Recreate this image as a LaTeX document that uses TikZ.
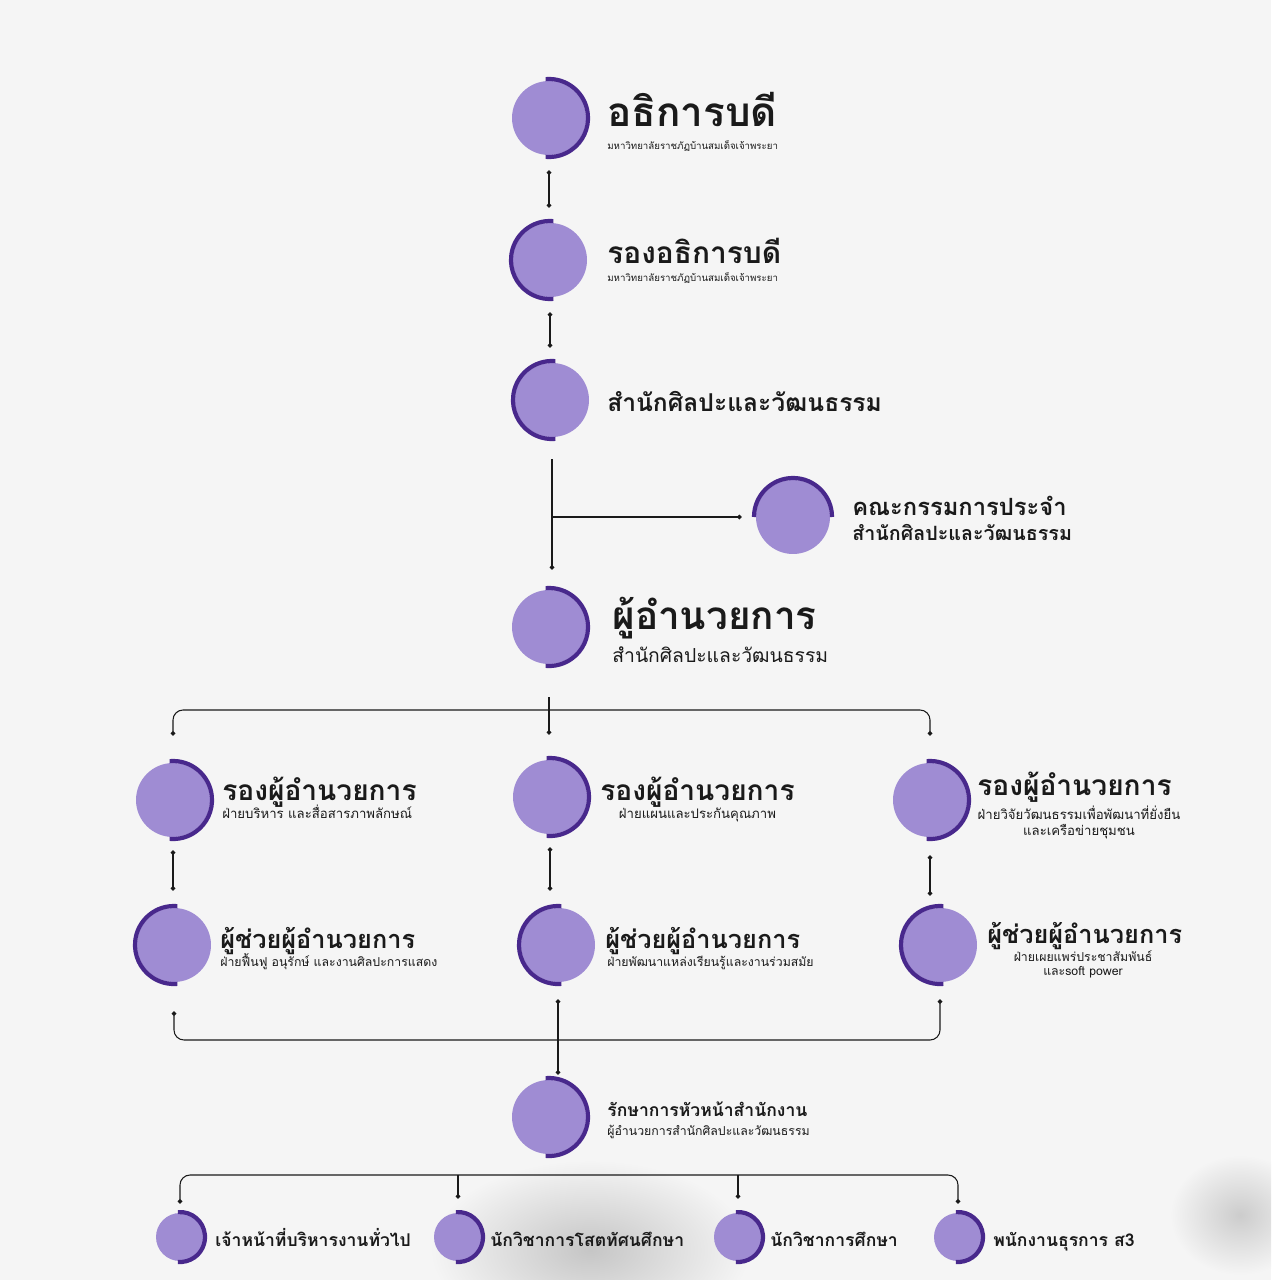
\documentclass[tikz,border=0pt]{standalone}
\usepackage{fontspec}
\newfontfamily\thai[Script=Thai]{Loma}
\usetikzlibrary{arrows.meta}

\definecolor{lav}{HTML}{9F8CD3}
\definecolor{rimc}{HTML}{48288C}
\definecolor{ink}{HTML}{1A1A1A}
\definecolor{paper}{HTML}{F5F5F5}

\tikzset{
  disc/.style={circle, fill=lav, minimum size=1.48cm, inner sep=0pt},
  smalldisc/.style={circle, fill=lav, minimum size=0.96cm, inner sep=0pt},
  rim/.style={rimc, line width=2.4pt},
  link/.style={ink, line width=0.6pt},
  ends/.style={{Circle[length=2.6pt]}-{Circle[length=2.6pt]}},
  endb/.style={-{Circle[length=2.6pt]}},
  title/.style={anchor=base west, inner sep=0pt, text=ink, font=\thai\bfseries},
  sub/.style={inner sep=0pt, text=ink, font=\thai, align=center}
}

\begin{document}
\begin{tikzpicture}[x=0.02cm, y=0.02cm]
  % paper
  \fill[paper] (0,0) rectangle (1271,-1280);
  \useasboundingbox (0,0) rectangle (1271,-1280);
  \begin{scope}
    \clip (0,0) rectangle (1271,-1280);
    \shade[inner color=gray!45, outer color=paper] (590,-1250) ellipse [x radius=160, y radius=90];
    \shade[inner color=gray!40, outer color=paper] (1240,-1215) ellipse [x radius=70, y radius=60];
  \end{scope}

  % discs
  \node[disc] (rector) at (549,-118) {};
  \node[disc] (vrector) at (550,-260) {};
  \node[disc] (office) at (552,-400) {};
  \node[disc] (board) at (793,-517) {};
  \node[disc] (director) at (549,-627) {};
  \node[disc] (dep1) at (173,-800) {};
  \node[disc] (dep2) at (550,-797) {};
  \node[disc] (dep3) at (930,-800) {};
  \node[disc] (asst1) at (174,-945) {};
  \node[disc] (asst2) at (558,-945) {};
  \node[disc] (asst3) at (940,-945) {};
  \node[disc] (head) at (549,-1117) {};
  \node[smalldisc] (staff1) at (180,-1237) {};
  \node[smalldisc] (staff2) at (458,-1237) {};
  \node[smalldisc] (staff3) at (738,-1237) {};
  \node[smalldisc] (staff4) at (958,-1237) {};

  % rims
  \foreach \n in {rector,director,dep1,dep2,dep3,head}
    \draw[rim] ([shift={(95:39)}]\n.center) arc[start angle=95, end angle=-95, radius=39];
  \foreach \n in {vrector,office,asst1,asst2,asst3}
    \draw[rim] ([shift={(85:39)}]\n.center) arc[start angle=85, end angle=275, radius=39];
  \draw[rim] ([shift={(180:39)}]board.center) arc[start angle=180, end angle=0, radius=39];
  \foreach \n in {staff1,staff2,staff3,staff4}
    \draw[rim] ([shift={(95:25)}]\n.center) arc[start angle=95, end angle=-95, radius=25];

  % titles
  \node[title, font=\thai\bfseries\fontsize{23}{25}\selectfont] (rector-t) at (607,-127) {อธิการบดี};
  \node[sub, anchor=base west, font=\thai\fontsize{5.5}{6}\selectfont] (rector-s) at (607,-150) {มหาวิทยาลัยราชภัฏบ้านสมเด็จเจ้าพระยา};
  \node[title, font=\thai\bfseries\fontsize{17}{19}\selectfont] (vrector-t) at (607,-264) {รองอธิการบดี};
  \node[sub, anchor=base west, font=\thai\fontsize{5.5}{6}\selectfont] (vrector-s) at (607,-282) {มหาวิทยาลัยราชภัฏบ้านสมเด็จเจ้าพระยา};
  \node[title, font=\thai\bfseries\fontsize{14}{16}\selectfont] (office-t) at (607,-411) {สำนักศิลปะและวัฒนธรรม};
  \node[title, font=\thai\bfseries\fontsize{13.5}{15}\selectfont] (board-t) at (852,-515) {คณะกรรมการประจำ};
  \node[title, font=\thai\bfseries\fontsize{11.2}{13}\selectfont] (board-s) at (852,-540) {สำนักศิลปะและวัฒนธรรม};
  \node[title, font=\thai\bfseries\fontsize{22}{24}\selectfont] (director-t) at (612,-629) {ผู้อำนวยการ};
  \node[sub, anchor=base west, font=\thai\fontsize{11}{12}\selectfont] (director-s) at (612,-662) {สำนักศิลปะและวัฒนธรรม};

  \node[title, font=\thai\bfseries\fontsize{16}{18}\selectfont] (dep1-t) at (222,-800) {รองผู้อำนวยการ};
  \node[sub, anchor=base west, font=\thai\fontsize{7.5}{8}\selectfont] (dep1-s) at (222,-818) {ฝ่ายบริหาร และสื่อสารภาพลักษณ์};
  \node[title, font=\thai\bfseries\fontsize{16}{18}\selectfont] (dep2-t) at (600,-800) {รองผู้อำนวยการ};
  \node[sub, anchor=base, font=\thai\fontsize{7.5}{8}\selectfont] (dep2-s) at (dep2-t.base |- 0,-818) {ฝ่ายแผนและประกันคุณภาพ};
  \node[title, font=\thai\bfseries\fontsize{16}{18}\selectfont] (dep3-t) at (977,-795) {รองผู้อำนวยการ};
  \node[sub, anchor=north, font=\thai\fontsize{7.5}{9}\selectfont] (dep3-s) at (1079,-806) {ฝ่ายวิจัยวัฒนธรรมเพื่อพัฒนาที่ยั่งยืน\\และเครือข่ายชุมชน};

  \node[title, font=\thai\bfseries\fontsize{14.4}{16}\selectfont] (asst1-t) at (220,-948) {ผู้ช่วยผู้อำนวยการ};
  \node[sub, anchor=base west, font=\thai\fontsize{7}{8}\selectfont] (asst1-s) at (220,-966) {ฝ่ายฟื้นฟู อนุรักษ์ และงานศิลปะการแสดง};
  \node[title, font=\thai\bfseries\fontsize{14.4}{16}\selectfont] (asst2-t) at (605,-948) {ผู้ช่วยผู้อำนวยการ};
  \node[sub, anchor=base west, font=\thai\fontsize{7}{8}\selectfont] (asst2-s) at (607,-966) {ฝ่ายพัฒนาแหล่งเรียนรู้และงานร่วมสมัย};
  \node[title, font=\thai\bfseries\fontsize{14.4}{16}\selectfont] (asst3-t) at (987,-943) {ผู้ช่วยผู้อำนวยการ};
  \node[sub, anchor=north, font=\thai\fontsize{7}{8}\selectfont] (asst3-s) at (1083,-950) {ฝ่ายเผยแพร่ประชาสัมพันธ์\\และsoft power};

  \node[title, font=\thai\bfseries\fontsize{10}{12}\selectfont] (head-t) at (607,-1116) {รักษาการหัวหน้าสำนักงาน};
  \node[sub, anchor=base west, font=\thai\fontsize{7}{8}\selectfont] (head-s) at (607,-1135) {ผู้อำนวยการสำนักศิลปะและวัฒนธรรม};

  \node[title, font=\thai\bfseries\fontsize{10}{12}\selectfont] (staff1-t) at (215,-1246) {เจ้าหน้าที่บริหารงานทั่วไป};
  \node[title, font=\thai\bfseries\fontsize{10}{12}\selectfont] (staff2-t) at (490,-1246) {นักวิชาการโสตทัศนศึกษา};
  \node[title, font=\thai\bfseries\fontsize{10}{12}\selectfont] (staff3-t) at (770,-1246) {นักวิชาการศึกษา};
  \node[title, font=\thai\bfseries\fontsize{10}{12}\selectfont] (staff4-t) at (993,-1246) {พนักงานธุรการ ส3};

  % links
  \draw[link, ends] ([yshift=-0.3cm]rector.south) -- ([yshift=0.3cm]rector.south |- vrector.north);
  \draw[link, ends] ([yshift=-0.3cm]vrector.south) -- ([yshift=0.3cm]vrector.south |- office.north);
  \draw[link, endb] ([yshift=-0.44cm]office.south) -- ([yshift=0.4cm]office.south |- director.north);
  \coordinate (fork) at (552,-517);
  \draw[link, endb, shorten >=0.28cm] (fork) -- (board);

  \coordinate (bus1) at (552,-710);
  \draw[link, ends, rounded corners=0.2cm] ([yshift=0.54cm]dep1.north) |- (bus1) -| ([yshift=0.54cm]dep3.north);
  \draw[link, endb] ([yshift=-0.66cm]director.south) -- ([yshift=0.5cm]director.south |- dep2.north);
  \draw[link, ends] ([yshift=-0.26cm]dep1.south) -- ([yshift=0.34cm]dep1.south |- asst1.north);
  \draw[link, ends] ([yshift=-0.26cm]dep2.south) -- ([yshift=0.34cm]dep2.south |- asst2.north);
  \draw[link, ends] ([yshift=-0.36cm]dep3.south) -- ([yshift=0.24cm]dep3.south |- asst3.north);

  \coordinate (bus2) at (556,-1040);
  \draw[link, ends, rounded corners=0.2cm] ([yshift=-0.58cm]asst1.south) |- (bus2) -| ([yshift=-0.34cm]asst3.south);
  \draw[link, ends] ([yshift=-0.34cm]asst2.south) -- ([yshift=0.1cm]asst2.south |- head.north);

  \coordinate (bus3) at (560,-1175);
  \draw[link, ends, rounded corners=0.2cm] ([yshift=0.18cm]staff1.north) |- (bus3) -| ([yshift=0.18cm]staff4.north);
  \draw[link, endb] (staff2.north |- bus3) -- ([yshift=0.28cm]staff2.north);
  \draw[link, endb] (staff3.north |- bus3) -- ([yshift=0.28cm]staff3.north);
\end{tikzpicture}
\end{document}
